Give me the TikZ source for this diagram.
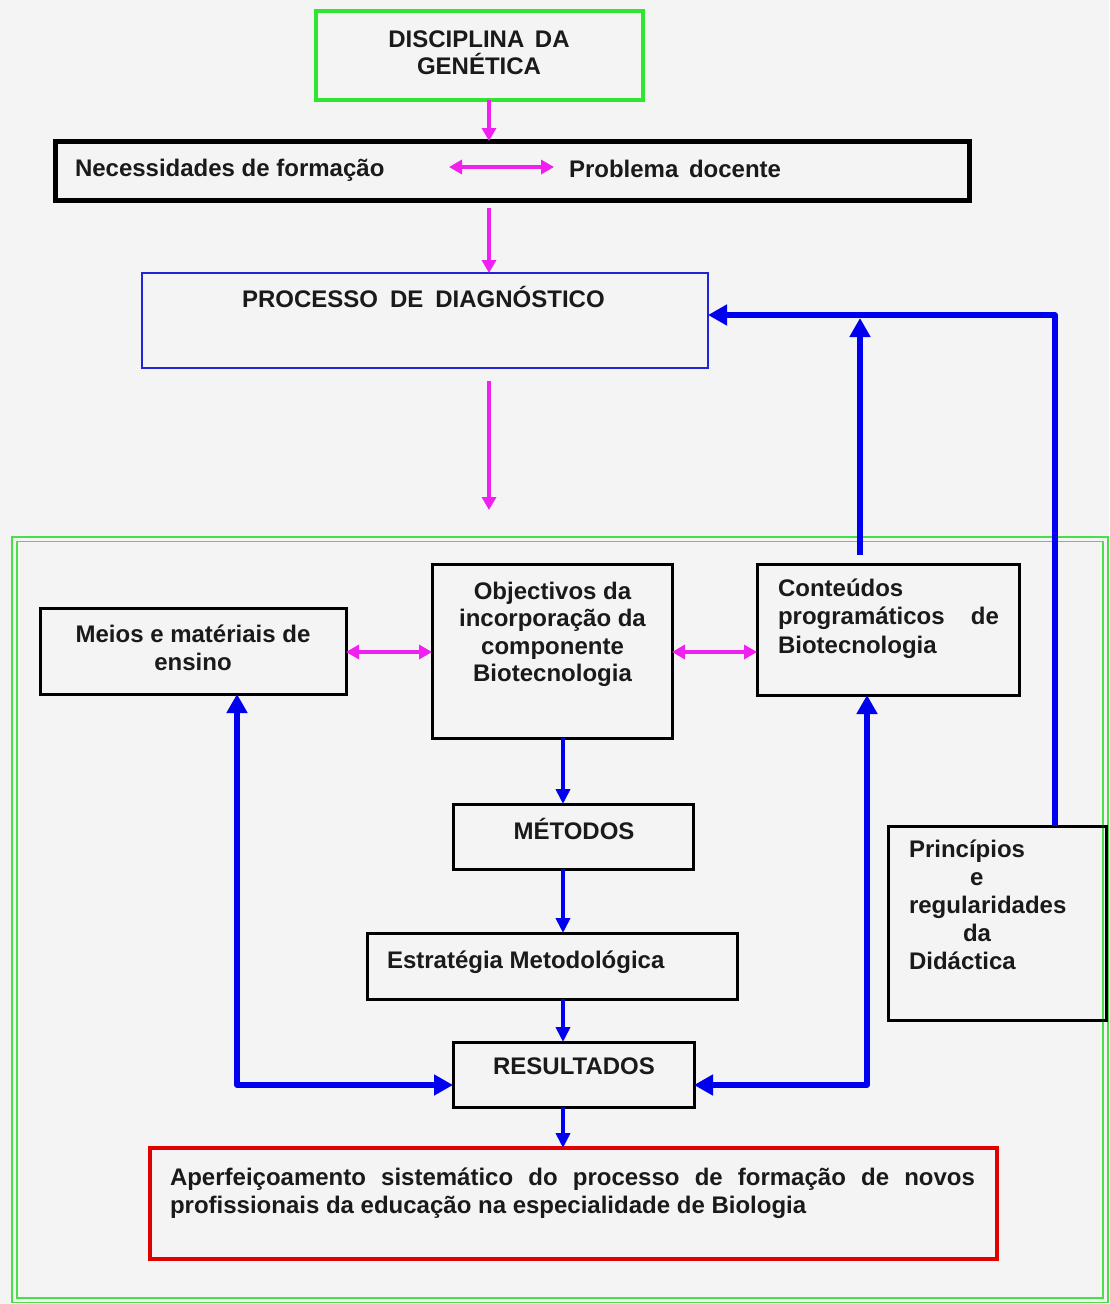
\documentclass[tikz,border=0pt]{standalone}
\usepackage{fontspec}
\setmainfont{Liberation Sans}
\usetikzlibrary{arrows.meta,calc}
\definecolor{bg}{HTML}{F4F4F4}
\definecolor{ggreen}{HTML}{2EE62E}
\definecolor{fgreen}{HTML}{48E048}
\definecolor{pblue}{HTML}{2424D6}
\definecolor{ablue}{HTML}{0000F0}
\definecolor{mag}{HTML}{F020F0}
\definecolor{rred}{HTML}{E00000}
\definecolor{ink}{HTML}{1A1A1A}
\newcommand\fstrut{\rule{0pt}{19pt}}
\begin{document}
\begin{tikzpicture}[x=1pt,y=-1pt,
  box/.style={draw=black, line width=3pt, rectangle, inner sep=0pt, outer sep=0pt},
  txt/.style={inner sep=0pt, outer sep=0pt, text=ink, font=\bfseries\fontsize{24}{28}\selectfont},
  pk/.style={draw=mag, line width=3.5pt, -{Triangle[width=14pt,length=13pt]}},
  pkd/.style={draw=mag, line width=3.5pt, {Triangle[width=14pt,length=13pt]}-{Triangle[width=14pt,length=13pt]}},
  bls/.style={draw=ablue, line width=4.5pt, -{Triangle[width=14pt,length=15pt]}},
  bl/.style={draw=ablue, line width=5.5pt, line join=round, -{Triangle[width=20pt,length=19pt]}},
  bld/.style={draw=ablue, line width=5.5pt, line join=round, {Triangle[width=20pt,length=19pt]}-{Triangle[width=20pt,length=19pt]}}]
\useasboundingbox (0,0) rectangle (1109,1304);
\fill[bg] (0,0) rectangle (1109,1304);

% frame
\node[draw=fgreen, double=bg, double distance=3pt, line width=1.8pt, inner sep=0pt, outer sep=0pt,
      minimum width=1091pt, minimum height=761pt] (frame) at (560,919.5) {};

% boxes
\node[box, draw=ggreen, line width=4pt, minimum width=327pt, minimum height=89pt] (gen) at (479.5,55) {};
\node[box, line width=5pt, minimum width=914pt, minimum height=59pt] (nec) at (512,170.5) {};
\node[box, draw=pblue, line width=2.5pt, minimum width=566pt, minimum height=95pt] (proc) at (425,320.5) {};
\node[box, minimum width=306pt, minimum height=86pt] (meios) at (193,651) {};
\node[box, minimum width=240pt, minimum height=174pt] (obj) at (552,651) {};
\node[box, minimum width=262pt, minimum height=131pt] (cont) at (888,629.5) {};
\node[box, minimum width=218pt, minimum height=194pt] (prin) at (997,923) {};
\node[box, minimum width=240pt, minimum height=65pt] (met) at (573,836.5) {};
\node[box, minimum width=370pt, minimum height=66pt] (est) at (552,966) {};
\node[box, minimum width=241pt, minimum height=65pt] (res) at (573.5,1074.5) {};
\node[box, draw=rred, line width=4pt, minimum width=847pt, minimum height=111pt] (red) at (573.5,1203.5) {};

% texts
\node[txt, anchor=north, align=center, font=\bfseries\fontsize{24}{27}\selectfont] (tgen) at (479,28) {\fstrut DISCIPLINA\hspace{4pt} DA\\GENÉTICA};
\node[txt, anchor=north west] (tnecl) at (75,157) {\fstrut Necessidades de formação};
\node[txt, anchor=north west] (tnecr) at (569,158) {\fstrut Problema\hspace{4pt} docente};
\node[txt, anchor=north west] (tproc) at (242,286) {\fstrut PROCESSO\hspace{12pt}DE\hspace{12pt}DIAGNÓSTICO};
\node[txt, anchor=north, align=center] (tmeios) at (193,623) {\fstrut Meios e matériais de\\ensino};
\node[txt, anchor=north, align=center, font=\bfseries\fontsize{24}{27.5}\selectfont] (tobj) at (552.5,580) {\fstrut Objectivos da\\incorporação da\\componente\\Biotecnologia};
\node[txt, anchor=north west, align=left, font=\bfseries\fontsize{24}{28.5}\selectfont] (tcont) at (778,577) {\fstrut Conteúdos\\\makebox[221pt][s]{programáticos de}\\Biotecnologia};
\node[txt, anchor=north west, align=left] (tprin) at (909,838) {\fstrut Princípios\\\hspace*{61pt}e\\regularidades\\\hspace*{54pt}da\\Didáctica};
\node[txt, anchor=north] (tmet) at (574,818) {\fstrut MÉTODOS};
\node[txt, anchor=north west] (test) at (387,949) {\fstrut Estratégia Metodológica};
\node[txt, anchor=north] (tres) at (574,1055) {\fstrut RESULTADOS};
\node[txt, anchor=north west, align=left, font=\bfseries\fontsize{24}{28.5}\selectfont] (tred) at (170,1166) {\fstrut\makebox[805pt][s]{Aperfeiçoamento sistemático do processo de formação de novos}\\profissionais da educação na especialidade de Biologia};

% helper coordinates
\coordinate (px) at (489,0);
\coordinate (na) at (449,167);
\coordinate (nb) at (554,167);
\coordinate (ym) at (0,652);
\coordinate (hy) at (0,315);
\coordinate (ux) at (860,0);
\coordinate (rx) at (1055,0);
\coordinate (cx) at (563,0);
\coordinate (lx) at (237,0);
\coordinate (rx2) at (867,0);
\coordinate (ry) at (0,1085);

% magenta connectors
\draw[pk] (gen.south -| px) -- (nec.north -| px);
\draw[pkd] (na) -- (nb);
\draw[pk, shorten <=8pt] (nec.south -| px) -- (proc.north -| px);
\draw[pk, shorten <=13pt] (proc.south -| px) -- ($(frame.north -| px)+(0,-29)$);
\draw[pkd] (meios.east |- ym) -- (obj.west |- ym);
\draw[pkd] (obj.east |- ym) -- (cont.west |- ym);

% blue connectors
\draw[bl] ($(cont.north -| ux)+(0,-9)$) -- ($(ux |- hy)+(0,3)$);
\draw[bl] (prin.north -| rx) -- (rx |- hy) -- (proc.east |- hy);
\draw[bls] (obj.south -| cx) -- (met.north -| cx);
\draw[bls] (met.south -| cx) -- (est.north -| cx);
\draw[bls] (est.south -| cx) -- (res.north -| cx);
\draw[bls] (res.south -| cx) -- (red.north -| cx);
\draw[bld] (meios.south -| lx) -- (lx |- ry) -- (res.west |- ry);
\draw[bld] (cont.south -| rx2) -- (rx2 |- ry) -- (res.east |- ry);
\end{tikzpicture}
\end{document}
